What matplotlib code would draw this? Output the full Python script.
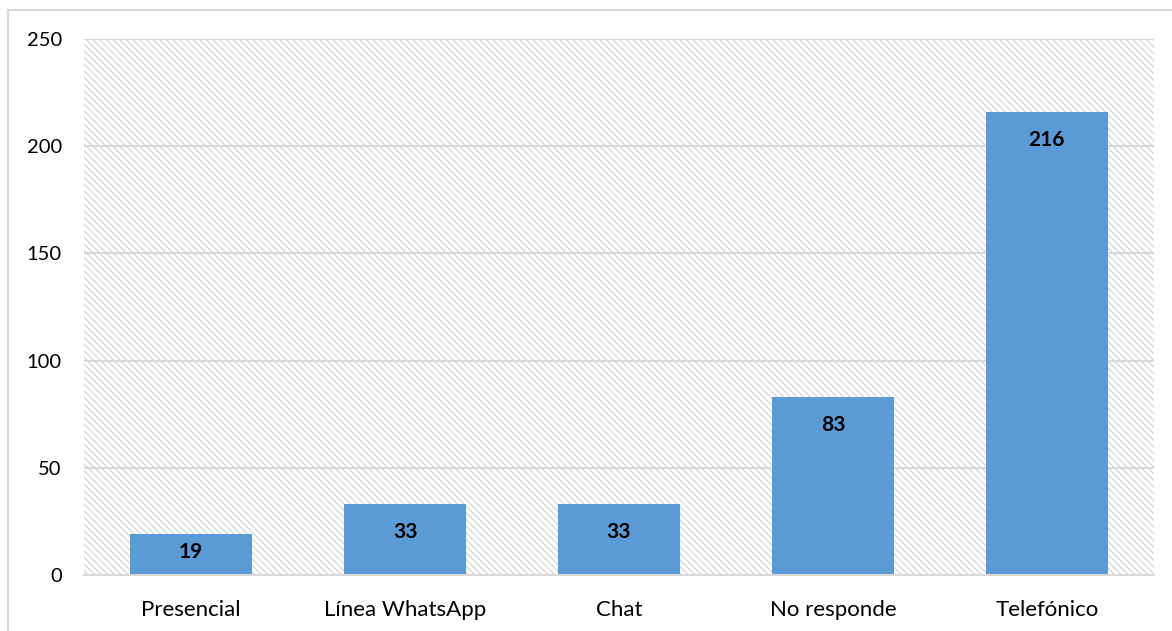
import matplotlib as mpl
import matplotlib.pyplot as plt
import matplotlib.patches as mpt
import numpy as np

# ----------------------------------------------------------------------- DATA
categories = ['Presencial', 'Línea WhatsApp', 'Chat', 'No responde', 'Telefónico']
values = [19, 33, 33, 83, 216]
yticks = [0, 50, 100, 150, 200, 250]

# --------------------------------------------------------------------- STYLE
plt.rcParams['font.family'] = ['Lato', 'DejaVu Sans']
bar_col = '#5B9BD5'
grey = '#d9d9d9'

fig = plt.figure(figsize=(11.72, 6.31), dpi=100)
ax = fig.add_axes([0.0717, 0.0887, 0.9129, 0.8495])

# hatched plot area
mpl.rcParams['hatch.linewidth'] = 0.8
bg = mpt.Rectangle((0, 0), 1, 1, transform=ax.transAxes, facecolor='white',
                   edgecolor='#cfcfcf', hatch='\\' * 5, linewidth=0, zorder=0)
ax.add_patch(bg)

x = np.arange(len(categories))
ax.bar(x, values, width=0.57, color=bar_col, zorder=3)

# value labels inside the bar top, kept inside short bars
for xi, v in zip(x, values):
    ax.text(xi, max(v - 13, v * 0.56), str(v), ha='center', va='center',
            fontsize=15, fontweight='bold', color='black', zorder=4)

ax.set_xlim(-0.5, len(categories) - 0.5)
ax.set_ylim(0, 250)
ax.set_yticks(yticks)
ax.set_xticks(x)
ax.set_xticklabels(categories)
ax.yaxis.grid(True, color=grey, linewidth=1.5, zorder=1)
ax.set_axisbelow(True)
ax.tick_params(axis='both', length=0, colors='black')
ax.tick_params(axis='x', pad=18, labelsize=16)
ax.tick_params(axis='y', pad=16, labelsize=14.5)

for s in ['top', 'right', 'left']:
    ax.spines[s].set_visible(False)
ax.spines['bottom'].set_color(grey)
ax.spines['bottom'].set_linewidth(1.5)
ax.spines['bottom'].set_zorder(5)

# chart border
frame = mpt.Rectangle((8 / 1172, -0.05), 1.2, 1 - 10 / 631 + 0.05,
                      transform=fig.transFigure, fill=False,
                      edgecolor=grey, linewidth=1.5)
fig.patches.append(frame)

fig.savefig('out.png', dpi=100)
